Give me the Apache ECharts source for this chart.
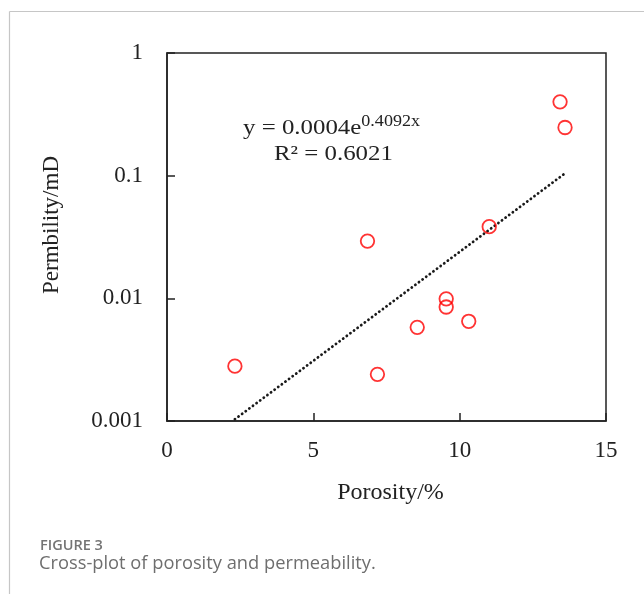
<!DOCTYPE html>
<html>
<head>
<meta charset="utf-8">
<script src="https://cdn.jsdelivr.net/npm/echarts@6/dist/echarts.min.js"></script>
<style>
  html, body { margin: 0; padding: 0; background: #fff; }
  #chart { width: 644px; height: 594px; }
</style>
</head>
<body>
<div id="chart"></div>
<script>
// Porosity (%) of each sample
const porosity = [13.43, 13.60, 11.01, 6.85, 9.54, 9.54, 10.31, 8.55, 2.32, 7.19];
// Permeability (mD) of each sample
const permeability = [0.40, 0.247, 0.0384, 0.0293, 0.0099, 0.0085, 0.0065, 0.0058, 0.0028, 0.0024];

// Exponential trendline y = a * e^(b x), as stated in the equation label
const trendA = 0.0004;
const trendB = 0.4092;
const trendR2 = 0.6021;

// Axis ticks
const xTicks = [0, 5, 10, 15];
const yTickLabels = ['0.001', '0.01', '0.1', '1'];

const serif = 'Liberation Serif, Times New Roman, serif';

const points = porosity.map((p, i) => [p, permeability[i]]);
const xMinData = Math.min(...porosity);
const xMaxData = Math.max(...porosity);
const trendPoints = [xMinData, xMaxData].map(x => [x, trendA * Math.exp(trendB * x)]);

const chart = echarts.init(document.getElementById('chart'), null, { renderer: 'canvas' });

chart.setOption({
  backgroundColor: '#fff',
  animation: false,
  grid: {
    left: 167, right: 38, top: 53, bottom: 173,
    show: true, borderColor: '#222', borderWidth: 1.5, backgroundColor: 'transparent'
  },
  xAxis: {
    type: 'value',
    min: xTicks[0], max: xTicks[xTicks.length - 1], interval: 5,
    name: 'Porosity/%',
    nameLocation: 'middle',
    nameGap: 60,
    nameTextStyle: { fontFamily: serif, fontSize: 24, color: '#222', padding: [0, 0, 0, 8] },
    axisLine: { show: true, onZero: false, lineStyle: { color: '#222', width: 1.5 } },
    axisTick: { show: true, inside: true, length: 8, lineStyle: { color: '#222', width: 1.5 } },
    axisLabel: { margin: 18, fontFamily: serif, fontSize: 23, color: '#222' },
    splitLine: { show: false }
  },
  yAxis: {
    type: 'log',
    logBase: 10,
    min: 0.001, max: 1,
    name: 'Permbility/mD',
    nameLocation: 'middle',
    nameGap: 104,
    nameRotate: 90,
    nameTextStyle: { fontFamily: serif, fontSize: 23, color: '#222', padding: [0, 0, 0, 24] },
    axisLine: { show: true, lineStyle: { color: '#222', width: 1.5 } },
    axisTick: { show: true, inside: true, length: 8, lineStyle: { color: '#222', width: 1.5 } },
    axisLabel: {
      margin: 24, fontFamily: serif, fontSize: 23, color: '#222',
      formatter: v => yTickLabels[Math.round(Math.log10(v)) + 3]
    },
    splitLine: { show: false }
  },
  series: [
    {
      name: 'Trendline',
      type: 'line',
      data: trendPoints,
      symbol: 'none',
      silent: true,
      z: 2,
      lineStyle: { color: '#1a1a1a', width: 2.8, type: [0.1, 4.4], cap: 'round' }
    },
    {
      name: 'Samples',
      type: 'scatter',
      data: points,
      symbol: 'circle',
      symbolSize: 13.5,
      z: 3,
      itemStyle: { color: 'rgba(0,0,0,0)', borderColor: '#ff0000', borderWidth: 1.8 }
    }
  ],
  graphic: [
    // card frame
    { type: 'line', shape: { x1: 9.5, y1: 11.5, x2: 644, y2: 11.5 }, style: { stroke: '#c6c6c6', lineWidth: 1.2 } },
    { type: 'line', shape: { x1: 9.5, y1: 11.5, x2: 9.5, y2: 594 }, style: { stroke: '#c6c6c6', lineWidth: 1.2 } },
    // trendline equation
    {
      type: 'text', x: 243, y: 114, scaleX: 1.13,
      style: {
        text: '{m|y = ' + trendA + 'e}{s|' + trendB + 'x}',
        rich: {
          m: { fontFamily: serif, fontSize: 22, fill: '#222', verticalAlign: 'bottom' },
          s: { fontFamily: serif, fontSize: 16, fill: '#222', verticalAlign: 'bottom', padding: [0, 0, 9, 0] }
        }
      }
    },
    {
      type: 'text', x: 274, y: 143, scaleX: 1.13,
      style: { text: 'R² = ' + trendR2, fontFamily: serif, fontSize: 22, fill: '#222' }
    },
    // caption
    {
      type: 'text', left: 40, top: 538,
      style: { text: 'FIGURE 3', fontFamily: 'Open Sans', fontSize: 14.5, fontWeight: 600, fill: '#747474' }
    },
    {
      type: 'text', left: 39, top: 555,
      style: { text: 'Cross-plot of porosity and permeability.', fontFamily: 'Open Sans', fontSize: 18.3, fill: '#6e6e6e' }
    }
  ]
});
</script>
</body>
</html>
